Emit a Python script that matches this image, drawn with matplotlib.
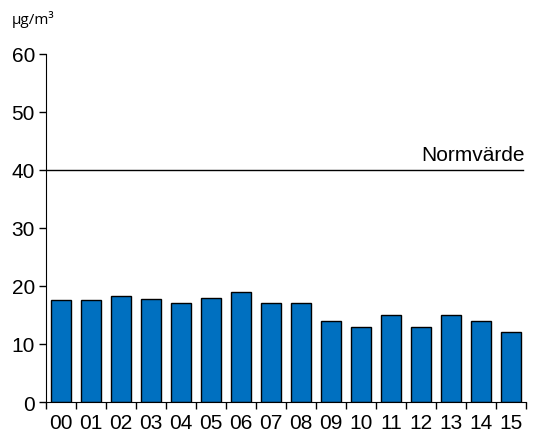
import numpy as np
import matplotlib
matplotlib.use("Agg")
import matplotlib.pyplot as plt

plt.rcParams['font.family'] = ['Liberation Sans', 'DejaVu Sans']

years = ["00", "01", "02", "03", "04", "05", "06", "07",
         "08", "09", "10", "11", "12", "13", "14", "15"]
values = [17.5, 17.5, 18.3, 17.8, 17.0, 18.0, 19.0, 17.0,
          17.0, 14.0, 13.0, 15.0, 13.0, 15.0, 14.0, 12.0]
norm_value = 40
norm_label = "Normvärde"
unit_label = "µg/m³"

fig = plt.figure(figsize=(5.36, 4.39), dpi=100)
ax = fig.add_axes([0.086, 0.082, 0.895, 0.793])

x = np.arange(len(years))
ax.bar(x, values, width=0.67, color="#0070C0", edgecolor="black", linewidth=1.0, zorder=2)

ax.axhline(norm_value, color="black", linewidth=1.0, xmin=0, xmax=0.995)
ax.text(len(years) - 0.55, norm_value + 1.0, norm_label, ha="right", va="bottom", fontsize=15)

ax.set_xlim(-0.5, len(years) - 0.5)
ax.set_ylim(0, 60)
ax.set_yticks(np.arange(0, 61, 10))
ax.set_xticks(x)
ax.set_xticklabels(years)
ax.set_xticks(np.arange(-0.5, len(years)), minor=True)
ax.tick_params(axis="x", which="major", length=0, labelsize=15, pad=8)
ax.tick_params(axis="x", which="minor", length=5, direction="out", width=1)
ax.tick_params(axis="y", length=5, direction="out", width=1, labelsize=15, pad=3)

ax.spines["top"].set_visible(False)
ax.spines["right"].set_visible(False)

fig.text(0.022, 0.955, unit_label, fontsize=11, ha="left", va="center", family=["Open Sans", "DejaVu Sans"])

fig.savefig("out.png", dpi=100)
